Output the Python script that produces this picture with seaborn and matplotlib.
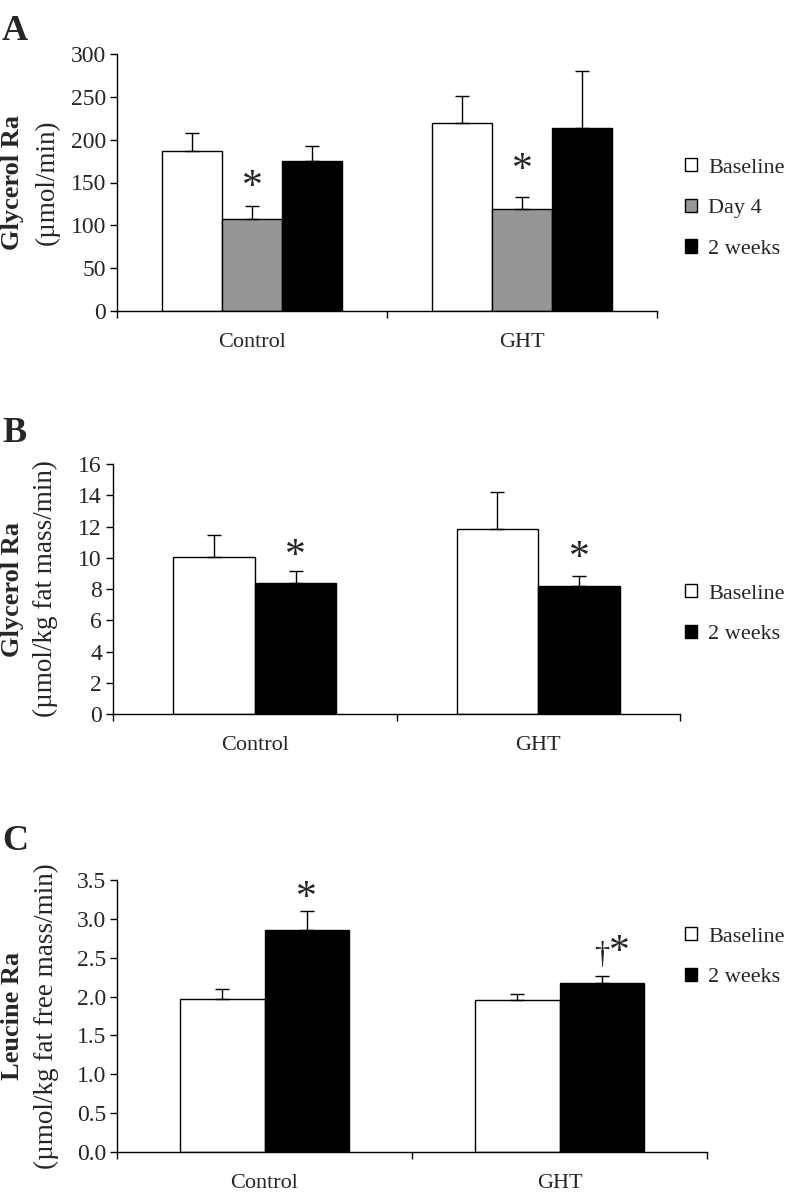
import numpy as np
import pandas as pd
import matplotlib
matplotlib.use("Agg")
import matplotlib.pyplot as plt
import seaborn as sns
from matplotlib.patches import Patch

# ---------------- data ----------------
groups = ["Control", "GHT"]

a_series = ["Baseline", "Day 4", "2 weeks"]
a_baseline = [187, 220]
a_day4 = [107, 119]
a_2wk = [175, 214]
a_baseline_err = [21, 31]
a_day4_err = [15, 14]
a_2wk_err = [18, 66]

b_series = ["Baseline", "2 weeks"]
b_baseline = [10.05, 11.84]
b_2wk = [8.40, 8.17]
b_baseline_err = [1.38, 2.40]
b_2wk_err = [0.77, 0.68]

c_series = ["Baseline", "2 weeks"]
c_baseline = [1.97, 1.95]
c_2wk = [2.86, 2.17]
c_baseline_err = [0.13, 0.08]
c_2wk_err = [0.24, 0.09]

a_yticks = [0, 50, 100, 150, 200, 250, 300]
b_yticks = [0, 2, 4, 6, 8, 10, 12, 14, 16]
c_yticks = [0.0, 0.5, 1.0, 1.5, 2.0, 2.5, 3.0, 3.5]

colors = {"Baseline": "#ffffff", "Day 4": "#969696", "2 weeks": "#000000"}

# ---------------- style ----------------
sns.set_style("ticks")
plt.rcParams["font.family"] = ["Liberation Serif", "DejaVu Serif"]

W, H = 793, 1196
fig = plt.figure(figsize=(W / 100, H / 100), dpi=100)


def px_axes(left, top, right, bottom):
    return fig.add_axes([left / W, 1 - bottom / H, (right - left) / W, (bottom - top) / H])


def panel(ax, series, values, errs, yticks, width, ylabel_bold, ylabel_reg,
          lab_x, legend_top, fmt):
    rows = []
    for s, vals in zip(series, values):
        for g, v in zip(groups, vals):
            rows.append({"group": g, "series": s, "value": v})
    df = pd.DataFrame(rows)
    sns.barplot(data=df, x="group", y="value", hue="series", order=groups,
                hue_order=series, palette=colors, edgecolor="black",
                linewidth=1.0, width=width, errorbar=None, legend=False,
                saturation=1, ax=ax)
    centers = {}
    for s, cont, e in zip(series, ax.containers, errs):
        xs = [p.get_x() + p.get_width() / 2 for p in cont.patches]
        hs = [p.get_height() for p in cont.patches]
        centers[s] = xs
        ax.errorbar(xs, hs, yerr=[np.zeros(len(e)), e], fmt="none",
                    ecolor="black", elinewidth=1.0, capsize=5, capthick=1.0,
                    zorder=1)
    ax.set_ylim(yticks[0], yticks[-1])
    ax.set_xlim(-0.5, 1.5)
    ax.set_yticks(yticks)
    ax.set_yticklabels([fmt(t) for t in yticks], fontsize=17)
    ax.set_xticks([-0.5, 0.5, 1.5])
    ax.set_xticklabels([])
    ax.set_xticks([0, 1], minor=True)
    ax.set_xticklabels(groups, minor=True, fontsize=16)
    ax.tick_params(axis="x", which="minor", length=0, pad=15.5)
    ax.tick_params(axis="both", which="major", length=5, width=1.0,
                   direction="out", color="black", pad=3)
    ax.set_xlabel("")
    ax.set_ylabel("")
    for sp in ["left", "bottom"]:
        ax.spines[sp].set_linewidth(1.0)
        ax.spines[sp].set_color("black")
    sns.despine(ax=ax)
    # two-line y label
    bb = ax.get_position()
    yc = (bb.y0 + bb.y1) / 2
    fig.text(lab_x[0] / W, yc, ylabel_bold, rotation=90, ha="center",
             va="center", fontsize=19, fontweight="bold")
    fig.text(lab_x[1] / W, yc, ylabel_reg, rotation=90, ha="center",
             va="center", fontsize=19.5)
    handles = [Patch(facecolor=colors[s], edgecolor="black", linewidth=1.0,
                     label=s) for s in series]
    fig.legend(handles=handles, loc="upper left",
               bbox_to_anchor=(685 / W, 1 - legend_top / H), frameon=False,
               fontsize=16, handlelength=0.55, handleheight=0.55,
               handletextpad=0.5, labelspacing=0.95, borderpad=0,
               borderaxespad=0)
    return centers


def star(ax, x, y, text="*", dx=0, size=30):
    ax.annotate(text, xy=(x, y), xytext=(dx, -0.53 * size),
                textcoords="offset points", ha="center", va="baseline",
                fontsize=size)


# ---------------- panel A ----------------
axA = px_axes(117, 54, 657, 311)
cA = panel(axA, a_series, [a_baseline, a_day4, a_2wk],
           [a_baseline_err, a_day4_err, a_2wk_err], a_yticks, 0.667,
           "Glycerol Ra", "(µmol/min)", (13, 47), 158, lambda t: f"{t:d}")
star(axA, cA["Day 4"][0], 158)
star(axA, cA["Day 4"][1], 177)

# ---------------- panel B ----------------
axB = px_axes(113, 464, 680, 714)
cB = panel(axB, b_series, [b_baseline, b_2wk], [b_baseline_err, b_2wk_err],
           b_yticks, 0.575, "Glycerol Ra", "(µmol/kg fat mass/min)", (13, 45),
           584, lambda t: f"{t:d}")
star(axB, cB["2 weeks"][0], 10.8)
star(axB, cB["2 weeks"][1], 10.7)

# ---------------- panel C ----------------
axC = px_axes(117, 880, 707, 1152)
cC = panel(axC, c_series, [c_baseline, c_2wk], [c_baseline_err, c_2wk_err],
           c_yticks, 0.57, "Leucine Ra", "(µmol/kg fat free mass/min)",
           (13, 46), 927, lambda t: f"{t:.1f}")
star(axC, cC["2 weeks"][0], 3.41)
axC.annotate("†", xy=(cC["2 weeks"][1], 2.43), xytext=(0, 0),
             textcoords="offset points", ha="center", va="baseline",
             fontsize=22)
star(axC, cC["2 weeks"][1], 2.71, dx=13)

# panel letters
for letter, ybase in [("A", 40), ("B", 442), ("C", 850)]:
    fig.text(2 / W, 1 - ybase / H, letter, ha="left", va="baseline",
             fontsize=26, fontweight="bold")

fig.savefig("out.png", dpi=100)
